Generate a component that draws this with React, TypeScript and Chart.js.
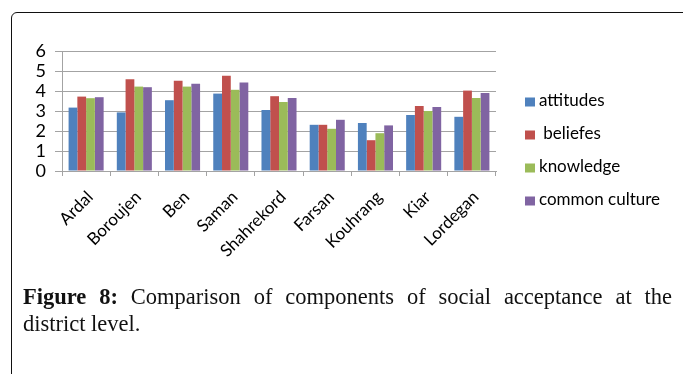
import React, { useEffect, useRef } from "react";
import { Chart, registerables } from "chart.js";

Chart.register(...registerables);

// Districts and component scores
const districts = ["Ardal", "Boroujen", "Ben", "Saman", "Shahrekord", "Farsan", "Kouhrang", "Kiar", "Lordegan"];
const attitudes = [3.17, 2.93, 3.54, 3.87, 3.05, 2.31, 2.4, 2.8, 2.71];
const beliefes = [3.72, 4.59, 4.51, 4.76, 3.74, 2.31, 1.54, 3.25, 4.02];
const knowledge = [3.64, 4.22, 4.22, 4.06, 3.45, 2.11, 1.89, 3.0, 3.65];
const commonCulture = [3.69, 4.19, 4.36, 4.42, 3.65, 2.56, 2.28, 3.2, 3.9];
const seriesLabels = ["attitudes", " beliefes", "knowledge", "common culture"];
const seriesColors = ["#4F81BD", "#C0504D", "#9BBB59", "#8064A2"];
const yTicks = [0, 1, 2, 3, 4, 5, 6];

const FONT = "Lato, 'Liberation Sans', sans-serif";
const GRID = "#a3a3a3";

// Vertical legend drawn to the right of the plot
const sideLegend = {
  id: "sideLegend",
  afterDraw(chart: any) {
    const ctx = chart.ctx;
    ctx.save();
    ctx.font = `17px ${FONT}`;
    ctx.textBaseline = "middle";
    ctx.textAlign = "left";
    chart.data.datasets.forEach((ds: any, i: number) => {
      const yc = 102 + i * 33;
      ctx.fillStyle = ds.backgroundColor;
      ctx.fillRect(525, yc - 4.5, 10, 9);
      ctx.fillStyle = "#000";
      ctx.fillText(ds.label, 539, yc - 1);
    });
    ctx.restore();
  },
};

export default function App() {
  const canvasRef = useRef<HTMLCanvasElement | null>(null);

  useEffect(() => {
    if (!canvasRef.current) return;
    const values = [attitudes, beliefes, knowledge, commonCulture];
    const chart = new Chart(canvasRef.current, {
      type: "bar",
      data: {
        labels: districts,
        datasets: values.map((v, i) => ({
          label: seriesLabels[i],
          data: v,
          backgroundColor: seriesColors[i],
          borderWidth: 0,
          categoryPercentage: 0.727,
          barPercentage: 1,
        })),
      },
      options: {
        responsive: false,
        animation: false,
        devicePixelRatio: 1,
        layout: { padding: { left: 0, top: 51, right: 187, bottom: 0 } },
        plugins: {
          legend: { display: false },
          tooltip: { enabled: false },
          title: { display: false },
        },
        scales: {
          x: {
            offset: true,
            grid: {
              offset: true,
              drawOnChartArea: false,
              drawTicks: true,
              tickLength: 5,
              color: GRID,
            },
            border: { color: GRID },
            ticks: {
              autoSkip: false,
              maxRotation: 45,
              minRotation: 45,
              padding: 11,
              labelOffset: 4,
              color: "#000",
              font: { family: FONT, size: 17 },
            },
            afterFit(scale: any) {
              scale.height = 97;
            },
          },
          y: {
            min: yTicks[0],
            max: yTicks[yTicks.length - 1],
            ticks: {
              stepSize: 1,
              autoSkip: false,
              padding: 9,
              color: "#000",
              font: { family: FONT, size: 18 },
            },
            grid: { color: GRID, tickLength: 7 },
            border: { color: GRID },
            afterFit(scale: any) {
              scale.width = 62;
            },
          },
        },
      },
      plugins: [sideLegend],
    });
    return () => chart.destroy();
  }, []);

  return (
    <div>
      <canvas
        ref={canvasRef}
        width={683}
        height={268}
        style={{ position: "absolute", left: 0, top: 0, width: 683, height: 268 }}
      />
      <div
        style={{
          position: "absolute",
          left: 11,
          top: 12,
          width: 700,
          height: 420,
          border: "1.4px solid #111",
          borderRadius: 6,
          boxSizing: "border-box",
          pointerEvents: "none",
        }}
      />
      <div
        style={{
          position: "absolute",
          left: 23,
          top: 283,
          width: 649,
          fontFamily: "'Liberation Serif', serif",
          fontSize: 22.5,
          lineHeight: "27px",
          color: "#111",
        }}
      >
        <div style={{ textAlign: "justify", textAlignLast: "justify" }}>
          <b>Figure 8:</b> Comparison of components of social acceptance at the
        </div>
        <div>district level.</div>
      </div>
    </div>
  );
}
